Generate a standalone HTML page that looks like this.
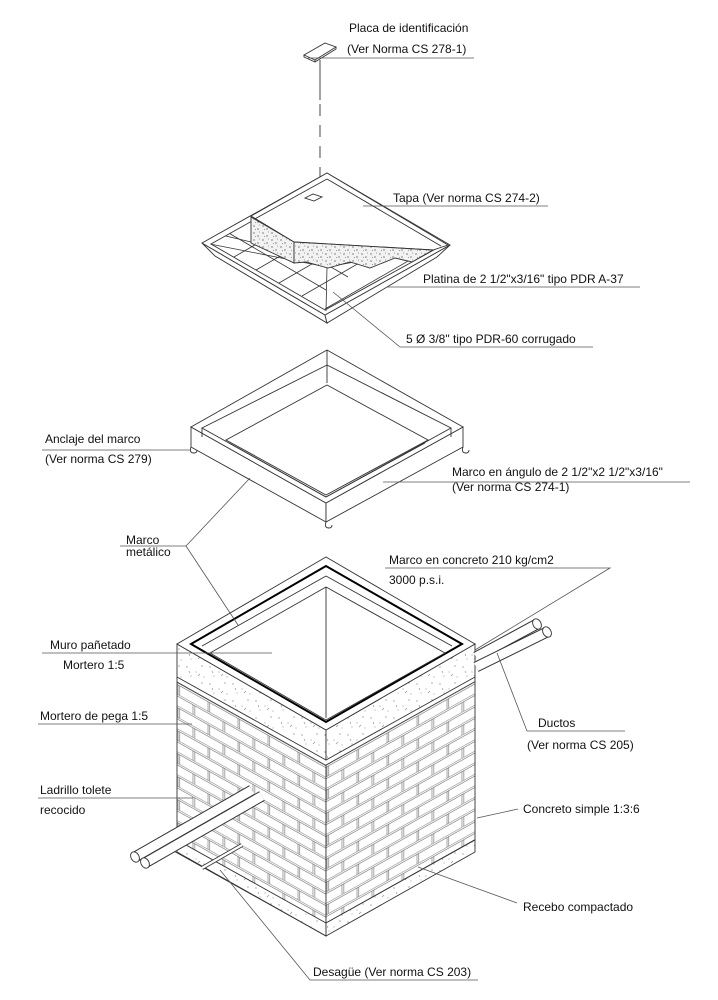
<!DOCTYPE html>
<html><head><meta charset="utf-8"><style>
html,body{margin:0;padding:0;background:#fff}
svg{display:block}
text{font-family:"Liberation Sans",sans-serif;font-size:12px;fill:#111}
</style></head><body>
<svg width="718" height="1000" viewBox="0 0 718 1000" xmlns="http://www.w3.org/2000/svg">
<defs>
<pattern id="brk" width="30" height="23" patternUnits="userSpaceOnUse">
<rect width="30" height="23" fill="#fff"/>
<path d="M0 0.5H30M0 2.3H30M0 12H30M0 13.8H30M1 2.3V12M2.8 2.3V12M16 13.8V23M17.8 13.8V23" stroke="#666" stroke-width="0.6" fill="none"/>
</pattern>
<pattern id="spk" width="23" height="17" patternUnits="userSpaceOnUse">
<rect width="23" height="17" fill="#fff"/>
<g fill="#777"><circle cx="3" cy="4" r="0.6"/><circle cx="12" cy="9" r="0.5"/><circle cx="18" cy="3" r="0.6"/><circle cx="7" cy="13" r="0.5"/><circle cx="20" cy="14" r="0.5"/></g>
<path d="M14 13l2-2M5 8l1 2" stroke="#888" stroke-width="0.6"/>
</pattern>
<pattern id="stp" width="9" height="7" patternUnits="userSpaceOnUse">
<rect width="9" height="7" fill="#f2f2f2"/>
<g fill="#333"><circle cx="2" cy="2" r="0.6"/><circle cx="6" cy="5" r="0.6"/><circle cx="7.5" cy="1" r="0.4"/><circle cx="3.5" cy="5.5" r="0.4"/></g>
</pattern>
<clipPath id="floor"><polygon points="327,180 210,244 326,311 442,246"/></clipPath>
</defs>
<g stroke="#333" stroke-width="0.9" fill="none">

<polygon points="304,55 325,43 336,47 315,60" fill="#fff"/>
<path d="M304,55 L304,57 L315,62 L336,49 L336,47 M315,60 V62"/>
<path d="M320,60 V100" />
<path d="M320,104 V195" stroke-dasharray="12,9"/>

<polygon points="202,243 215,256 327,323 325,315" fill="#fff"/>
<polygon points="325,315 327,323 437,257 450,245" fill="#fff"/>
<polygon points="327,173 202,243 325,315 450,245" fill="#fff"/>
<polygon points="327,179 211,244 325,310 441,246"/>
<g clip-path="url(#floor)" stroke-width="0.8">
<path d="M188,237 L304,305 M210,222 L326,290 M232,209 L348,277 M254,196 L370,264 M276,183 L392,251 M298,170 L414,238"/>
<path d="M234,257 L350,190 M256,270 L372,203 M279,283 L395,216 M302,296 L418,229 M325,309 L441,242"/>
<path d="M327,267 L326,311 M327,267 L210,244 M327,267 L442,246 M251,242 L180,225"/>
</g>
<polygon points="327,173 251,216 294,242 433,250 448,245" fill="#fff"/>
<path d="M327,179 L251,221 M327,179 L441,246"/>
<polygon points="305,198 313,194 322,197 314,201"/>
<polygon points="251,217 251,243 294,263 294,242" fill="url(#stp)"/>
<polygon points="294,242 433,250 412,262 395,258 370,268 350,262 328,268 306,262 294,263" fill="url(#stp)"/>

<polygon points="191,427 191,447 326,522 326,503" fill="#fff"/>
<polygon points="326,503 326,522 463,447 463,427" fill="#fff"/>
<polygon points="327,350 191,427 326,503 463,427" fill="#fff"/>
<polygon points="327,365 202,428 326,497 451,428"/>
<polygon points="327,385 226,440 326,495 428,440"/>
<path d="M327,350 V383 M202,428 V437 M451,428 V437 M229,443 L326,497 M425,443 L326,497"/>
<path d="M191,447 q-2,6 3,6 q3,0 3,-3 M326,522 q-2,6 3,6 q3,0 3,-3 M463,447 q-2,6 3,6 q3,0 3,-3"/>

<polygon points="177,644 177,677 326,760 326,730" fill="url(#spk)"/>
<polygon points="326,730 326,760 475,677 475,644" fill="url(#spk)"/>
<polygon points="326,557 177,644 326,730 475,644" fill="#fff"/>
<polygon points="326,566 191,644 326,722 462,644" stroke="#000" stroke-width="2"/>
<path d="M326,576 L202,646 M326,576 L452,646"/>
<polygon points="326,587 210,653 326,720 445,653"/>
<path d="M326,587 V718"/>
<g transform="matrix(1,0.56,0,1,177,682)"><rect width="149" height="158" fill="url(#brk)" stroke="#333"/></g>
<g transform="matrix(1,-0.56,0,1,326,765)"><rect width="149" height="158" fill="url(#brk)" stroke="#333"/></g>
<path d="M177,677 V682 M475,677 V682" />
<polygon points="177,840 177,852 326,936 326,923" fill="url(#spk)"/>
<polygon points="326,923 326,936 475,852 475,840" fill="url(#spk)"/>
<path d="M177,840 L172,843 L172,850 L326,936"/>

<g stroke-linecap="butt">
<line x1="135" y1="857" x2="252" y2="790" stroke="#333" stroke-width="11"/>
<line x1="135" y1="857" x2="252" y2="790" stroke="#fff" stroke-width="9"/>
<ellipse cx="135" cy="857" rx="4" ry="5.5" fill="#fff" transform="rotate(-30 135 857)"/>
<line x1="145" y1="863" x2="262" y2="796" stroke="#333" stroke-width="11"/>
<line x1="145" y1="863" x2="262" y2="796" stroke="#fff" stroke-width="9"/>
<ellipse cx="145" cy="863" rx="4" ry="5.5" fill="#fff" transform="rotate(-30 145 863)"/>
<line x1="202" y1="868" x2="242" y2="845" stroke="#333" stroke-width="4"/>
<line x1="202" y1="868" x2="242" y2="845" stroke="#fff" stroke-width="2.4"/>
</g>
<line x1="476" y1="657" x2="537" y2="624" stroke="#333" stroke-width="11"/>
<line x1="476" y1="657" x2="537" y2="624" stroke="#fff" stroke-width="9"/>
<ellipse cx="537" cy="624" rx="4" ry="5.5" fill="#fff" transform="rotate(-30 537 624)"/>
<line x1="476" y1="667" x2="547" y2="632" stroke="#333" stroke-width="11"/>
<line x1="476" y1="667" x2="547" y2="632" stroke="#fff" stroke-width="9"/>
<ellipse cx="547" cy="632" rx="4" ry="5.5" fill="#fff" transform="rotate(-30 547 632)"/>

<g stroke="#555" stroke-width="0.8">
<path d="M308,58 H474"/>
<path d="M363,206 H548"/>
<path d="M387,287 H640"/>
<path d="M333,292 L400,347 H593"/>
<path d="M42,450 H190"/>
<path d="M120,546 H186 L250,478 M186,546 L238,625"/>
<path d="M383,482 H690"/>
<path d="M385,568 H610 L475,650"/>
<path d="M497,653 L527,731 H625"/>
<path d="M42,653 H272"/>
<path d="M38,724 H192"/>
<path d="M38,798 H193"/>
<path d="M477,818 L518,809"/>
<path d="M418,867 L517,903"/>
<path d="M220,870 L310,980 H478"/>
</g>
</g>

<text x="349" y="32">Placa de identificación</text>
<text x="347" y="53">(Ver Norma CS 278-1)</text>
<text x="393" y="202">Tapa (Ver norma CS 274-2)</text>
<text x="423" y="283">Platina de 2 1/2"x3/16" tipo PDR A-37</text>
<text x="406" y="343">5 Ø 3/8" tipo PDR-60 corrugado</text>
<text x="45" y="443">Anclaje del marco</text>
<text x="45" y="463">(Ver norma CS 279)</text>
<text x="452" y="476">Marco en ángulo de 2 1/2"x2 1/2"x3/16"</text>
<text x="452" y="491">(Ver norma CS 274-1)</text>
<text x="126" y="544">Marco</text>
<text x="126" y="556">metálico</text>
<text x="389" y="564">Marco en concreto 210 kg/cm2</text>
<text x="389" y="584">3000 p.s.i.</text>
<text x="50" y="649">Muro pañetado</text>
<text x="63" y="669">Mortero 1:5</text>
<text x="40" y="720">Mortero de pega 1:5</text>
<text x="538" y="727">Ductos</text>
<text x="527" y="749">(Ver norma CS 205)</text>
<text x="40" y="794">Ladrillo tolete</text>
<text x="40" y="814">recocido</text>
<text x="523" y="813">Concreto simple 1:3:6</text>
<text x="523" y="911">Recebo compactado</text>
<text x="313" y="976">Desagüe (Ver norma CS 203)</text>
</svg>
</body></html>
